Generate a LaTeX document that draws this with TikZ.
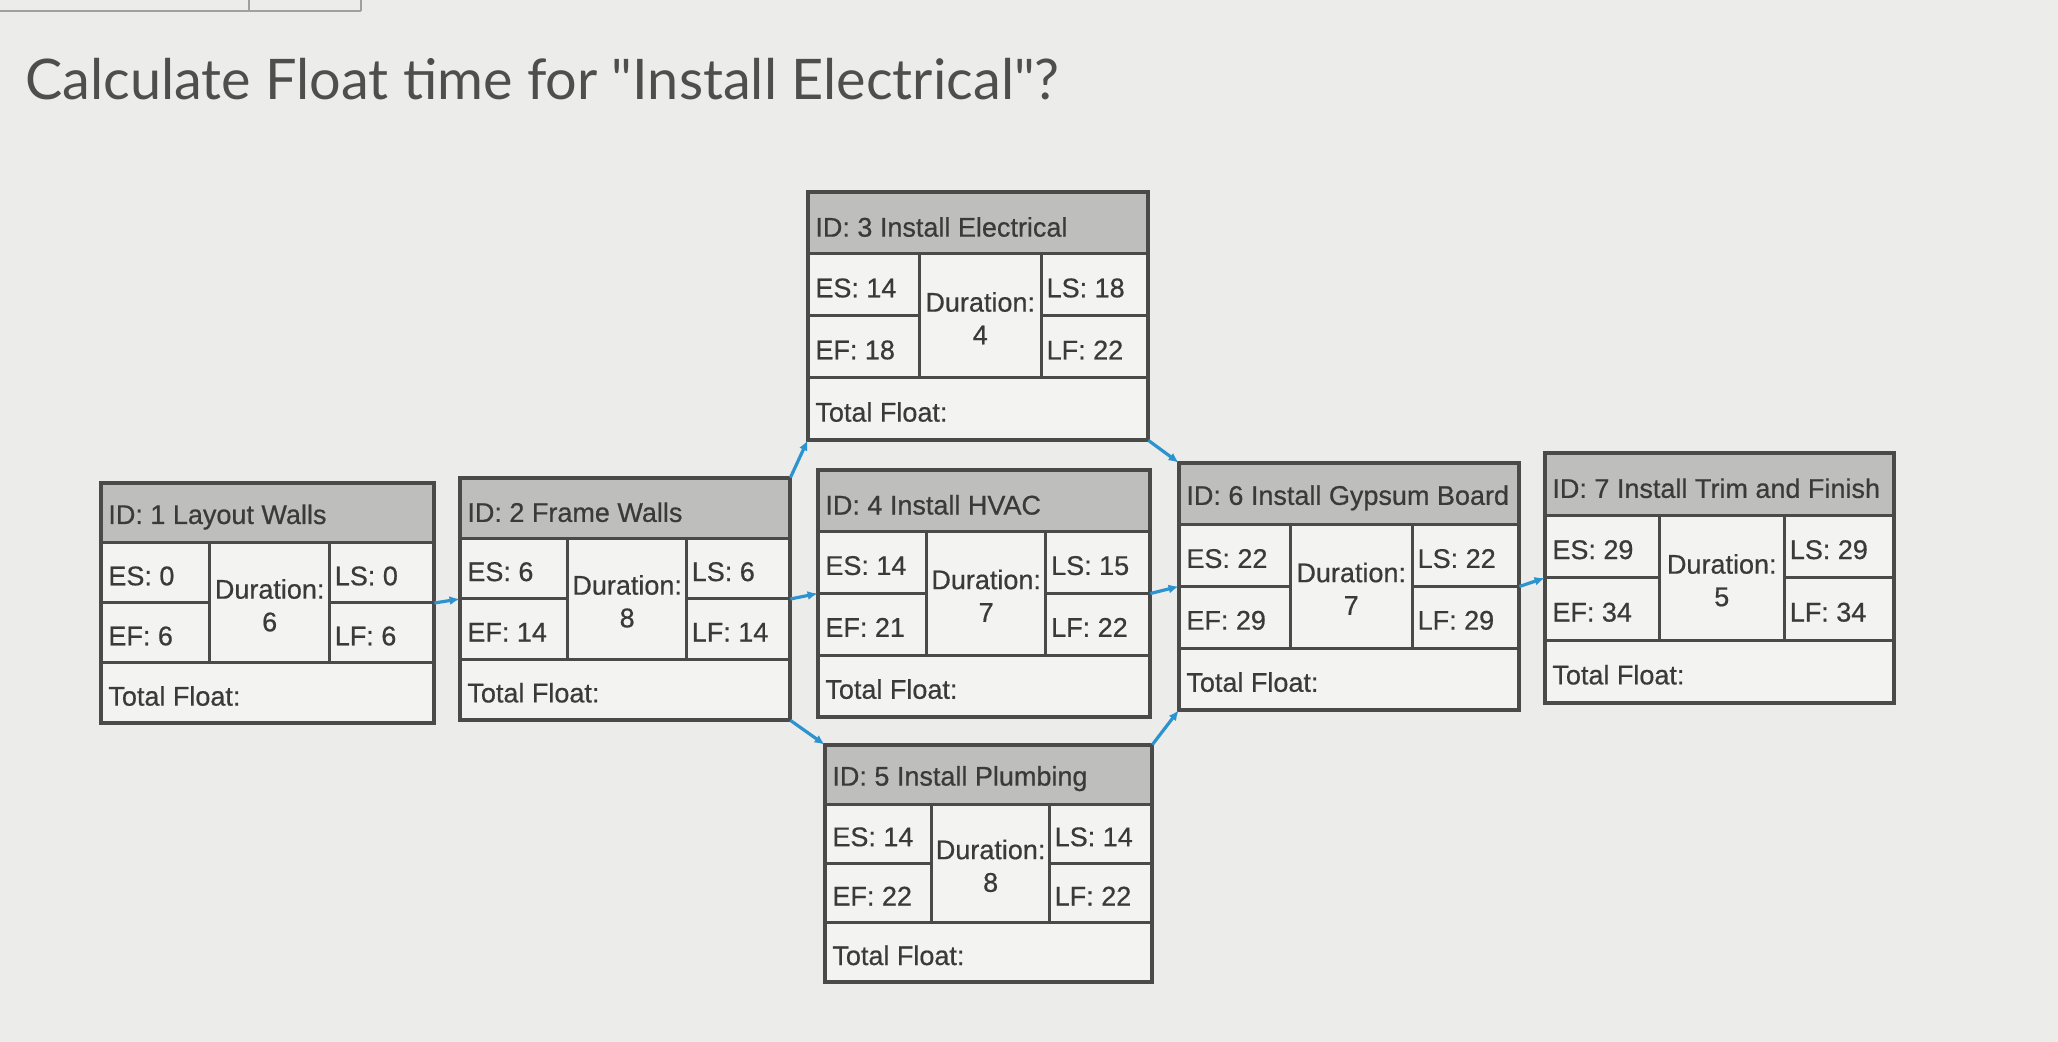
\documentclass[tikz,border=0pt]{standalone}
\usepackage{fontspec}
\usepackage{graphicx}
\setmainfont{Liberation Sans}
\newfontfamily\boxfont[FakeBold=0.6]{Liberation Sans}
\newfontfamily\titlefont{Lato}
\usetikzlibrary{arrows.meta}
\definecolor{bg}{HTML}{ECECEA}
\definecolor{cellbg}{HTML}{F3F3F1}
\definecolor{headbg}{HTML}{BEBEBC}
\definecolor{boxline}{HTML}{4A4A48}
\definecolor{txt}{HTML}{3A3A38}
\definecolor{titlegray}{HTML}{4E4E4C}
\definecolor{linkblue}{HTML}{2C93CF}
\definecolor{tabgray}{HTML}{A0A09E}
\tikzset{
  cellfill/.style={fill=cellbg, draw=none, inner sep=0pt},
  headfill/.style={fill=headbg},
  actframe/.style={draw=boxline, line width=2pt},
  cellline/.style={draw=boxline, line width=1.5pt},
  celltext/.style={font=\boxfont\fontsize{13.5}{15}\selectfont, text=txt, inner sep=0pt},
  link/.style={draw=linkblue, line width=1.6pt, -{Latex[length=5pt,width=4.5pt]}},
  tabline/.style={draw=tabgray, line width=1pt}
}
\newcommand{\actgeom}[5]{%
  \def\aname{#1}%
  \pgfmathsetmacro\axa{#2}\pgfmathsetmacro\aya{#3}%
  \pgfmathsetmacro\axb{#4}\pgfmathsetmacro\ayb{#5}%
  \pgfmathsetmacro\acx{#2+0.327*(#4-#2)}%
  \pgfmathsetmacro\acxx{#2+0.686*(#4-#2)}%
  \pgfmathsetmacro\ahy{#3+0.25*(#5-#3)}%
  \pgfmathsetmacro\amy{#3+0.5*(#5-#3)}%
  \pgfmathsetmacro\ary{#3+0.75*(#5-#3)}%
  \pgfmathsetmacro\aw{(#4-#2)*0.5}%
  \pgfmathsetmacro\ah{(#5-#3)*0.5}%
  \node[cellfill, minimum width=\aw pt, minimum height=\ah pt] (#1) at ({(#2+#4)/2},{(#3+#5)/2}) {};
}
\newcommand{\actdata}[6]{%
  \fill[headfill] (\axa,\aya) rectangle (\axb,\ahy);
  \draw[cellline] (\axa,\ahy) -- (\axb,\ahy)
     (\axa,\ary) -- (\axb,\ary)
     (\axa,\amy) -- (\acx,\amy) (\acxx,\amy) -- (\axb,\amy)
     (\acx,\ahy) -- (\acx,\ary) (\acxx,\ahy) -- (\acxx,\ary);
  \draw[actframe] (\aname.north west) rectangle (\aname.south east);
  \node[celltext, anchor=west] (\aname-t) at ({\axa+7},{(\aya+\ahy)/2+4}) {#1};
  \node[celltext, anchor=west] (\aname-es) at ({\axa+7},{(\ahy+\amy)/2+3}) {ES: #2};
  \node[celltext, anchor=west] (\aname-ef) at ({\axa+7},{(\amy+\ary)/2+3}) {EF: #3};
  \node[celltext] (\aname-dl) at ({(\acx+\acxx)/2},{\amy-14}) {Duration:};
  \node[celltext] (\aname-dv) at ({(\acx+\acxx)/2},{\amy+19}) {#4};
  \node[celltext, anchor=west] (\aname-ls) at ({\acxx+5},{(\ahy+\amy)/2+3}) {LS: #5};
  \node[celltext, anchor=west] (\aname-lf) at ({\acxx+5},{(\amy+\ary)/2+3}) {LF: #6};
  \node[celltext, anchor=west] (\aname-tf) at ({\axa+7},{(\ary+\ayb)/2+3}) {Total Float:};
}
\begin{document}
\begin{tikzpicture}[x=0.5pt,y=-0.5pt]
\useasboundingbox (0,0) rectangle (2058,1042);
\fill[bg] (0,0) rectangle (2058,1042);
% tab remnant at top left
\draw[tabline] (0,11) -- (361,11) (249,0) -- (249,11) (361,0) -- (361,11);
% title
\node[anchor=base west, inner sep=0pt, text=titlegray, font=\titlefont\fontsize{28}{32}\selectfont] (title) at (25,100)
  {\resizebox{517pt}{\height}{Calculate Float time for "Install Electrical"?}};
% activities
\actgeom{b1}{101}{483}{434}{723}
\actdata{ID: 1 Layout Walls}{0}{6}{6}{0}{6}
\actgeom{b2}{460}{478}{790}{720}
\actdata{ID: 2 Frame Walls}{6}{14}{8}{6}{14}
\actgeom{b3}{808}{192}{1148}{440}
\actdata{ID: 3 Install Electrical}{14}{18}{4}{18}{22}
\actgeom{b4}{818}{470}{1150}{717}
\actdata{ID: 4 Install HVAC}{14}{21}{7}{15}{22}
\actgeom{b5}{825}{745}{1152}{982}
\actdata{ID: 5 Install Plumbing}{14}{22}{8}{14}{22}
\actgeom{b6}{1179}{463}{1519}{710}
\actdata{ID: 6 Install Gypsum Board}{22}{29}{7}{22}{29}
\actgeom{b7}{1545}{453}{1894}{703}
\actdata{ID: 7 Install Trim and Finish}{29}{34}{5}{29}{34}
% connectors
\draw[link] (b1.east) -- (b2.west);
\draw[link] (b2.north east) -- (b3.south west);
\draw[link] (b2.east) -- (b4.west);
\draw[link] (b2.south east) -- (b5.north west);
\draw[link] (b3.south east) -- (b6.north west);
\draw[link] (b4.east) -- (b6.west);
\draw[link] (b5.north east) -- (b6.south west);
\draw[link] (b6.east) -- (b7.west);
\end{tikzpicture}
\end{document}
